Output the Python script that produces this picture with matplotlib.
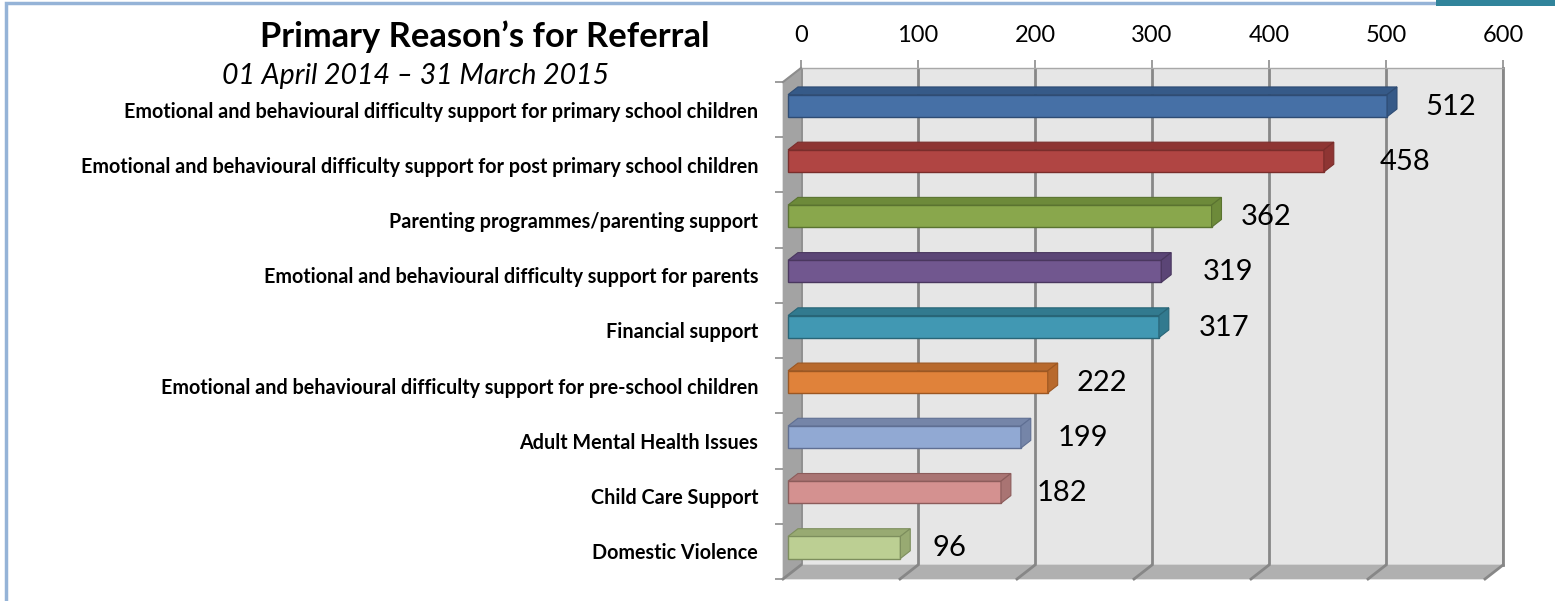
import matplotlib
matplotlib.use("Agg")
import matplotlib.pyplot as plt
from matplotlib.patches import Polygon, Rectangle
from matplotlib.transforms import ScaledTranslation
import numpy as np

# ---- data -------------------------------------------------------------
categories = [
    "Emotional and behavioural difficulty support for primary school children",
    "Emotional and behavioural difficulty support for post primary school children",
    "Parenting programmes/parenting support",
    "Emotional and behavioural difficulty support for parents",
    "Financial support",
    "Emotional and behavioural difficulty support for pre-school children",
    "Adult Mental Health Issues",
    "Child Care Support",
    "Domestic Violence",
]
referrals = [512, 458, 362, 319, 317, 222, 199, 182, 96]
x_ticks = [0, 100, 200, 300, 400, 500, 600]

# ---- styles -----------------------------------------------------------
front_colors = ["#4670a6", "#b04543", "#89a74c", "#71578f", "#4198b3",
                "#e0823a", "#91a9d3", "#d49190", "#bccf93"]
top_colors = ["#365a88", "#8e3533", "#6d8a3a", "#5b4576", "#327a8f",
              "#b8692c", "#7585a8", "#a97473", "#98aa72"]
edge_colors = ["#2e4c74", "#7a2d2b", "#5a7330", "#4a375f", "#286577",
               "#9c5722", "#5f6f93", "#8c5c5b", "#7d8e5d"]
label_nudge_px = [38, 56, 29, 41, 40, 29, 37, 36, 32]

FONT = "Lato"
W, H, DPI = 1555, 601, 100
DX, DY = 18, 14            # depth offset of the back wall, in pixels
Z0, Z1 = 0.28, 0.83        # front/back depth fractions of the bars
BAR_H = 0.40

fig = plt.figure(figsize=(W / DPI, H / DPI), dpi=DPI)
fig.patch.set_facecolor("white")


def px_axes(left, top, width, height, **kw):
    return fig.add_axes([left / W, (H - top - height) / H, width / W, height / H], **kw)


n = len(categories)
ylims = (n - 0.5, -0.5)

# back wall
back = px_axes(783 + DX, 82 - DY, 702, 497)
back.set_zorder(0)
back.set_xlim(0, 600)
back.set_ylim(*ylims)
back.set_facecolor("#e6e6e6")
back.set_xticks(x_ticks)
back.set_xticklabels([str(t) for t in x_ticks], fontsize=17, family=FONT)
back.xaxis.tick_top()
back.tick_params(axis="x", direction="out", length=6, width=1.2, color="#8c8c8c", pad=10)
back.set_yticks([])
back.grid(axis="x", color="#878787", linewidth=2.0)
back.set_axisbelow(True)
for s in ["left", "bottom"]:
    back.spines[s].set_visible(False)
back.spines["top"].set_color("#a8a8a8")
back.spines["top"].set_linewidth(1.0)
back.spines["right"].set_color("#878787")
back.spines["right"].set_linewidth(2.0)

# front plane: carries category labels and bars
ax = px_axes(783, 82, 702, 497)
ax.set_zorder(1)
ax.set_xlim(0, 600)
ax.set_ylim(*ylims)
ax.patch.set_alpha(0)
for s in ax.spines.values():
    s.set_visible(False)
ax.set_xticks([])
ax.set_yticks(np.arange(n))
ax.set_yticklabels(categories, fontsize=14.2, fontweight="bold", family=FONT)
ax.tick_params(axis="y", length=0, pad=18)
ax.set_yticks(np.arange(n + 1) - 0.5, minor=True)
ax.tick_params(axis="y", which="minor", length=6, width=1.2, color="#8c8c8c", direction="out")

fig.canvas.draw()


def to_px(x, y, z=0.0):
    px, py = ax.transData.transform((x, y))
    return (px + DX * z, py + DY * z)


def face(points, fc, ec, lw=1.0, zorder=3):
    fig.patches.append(Polygon(points, closed=True, transform=None, facecolor=fc,
                               edgecolor=ec, linewidth=lw, zorder=zorder,
                               figure=fig))


# left side wall and floor
y_top, y_bot = -0.5, n - 0.5
face([to_px(0, y_top, 0), to_px(0, y_top, 1), to_px(0, y_bot, 1), to_px(0, y_bot, 0)],
     "#a3a3a3", "#a3a3a3", 0.5, zorder=0.5)
face([to_px(0, y_bot, 0), to_px(0, y_bot, 1), to_px(600, y_bot, 1), to_px(600, y_bot, 0)],
     "#b0b0b0", "#b0b0b0", 0.5, zorder=0.5)
# edge lines on the floor and side wall
for t in x_ticks:
    (x0, y0), (x1, y1) = to_px(t, y_bot, 0), to_px(t, y_bot, 1)
    fig.lines.append(plt.Line2D([x0, x1], [y0, y1], transform=None, color="#878787",
                                linewidth=2.0, zorder=0.6, figure=fig))
(x0, y0), (x1, y1) = to_px(0, y_top, 0), to_px(0, y_top, 1)
fig.lines.append(plt.Line2D([x0, x1], [y0, y1], transform=None, color="#8c8c8c",
                            linewidth=1.5, zorder=0.6, figure=fig))

# bars: front face, top face, end face
for i, v in enumerate(referrals):
    yt, yb = i - BAR_H / 2, i + BAR_H / 2
    shift = ScaledTranslation(DX * Z0 / DPI, DY * Z0 / DPI, fig.dpi_scale_trans)
    ax.barh(i, v, height=BAR_H, color=front_colors[i], edgecolor=edge_colors[i],
            linewidth=1.0, transform=ax.transData + shift, zorder=3, clip_on=False)
    face([to_px(0, yt, Z0), to_px(v, yt, Z0), to_px(v, yt, Z1), to_px(0, yt, Z1)],
         top_colors[i], edge_colors[i], 0.8, zorder=4)
    face([to_px(v, yt, Z0), to_px(v, yt, Z1), to_px(v, yb, Z1), to_px(v, yb, Z0)],
         top_colors[i], edge_colors[i], 0.8, zorder=4)
    # value label
    lx, ly = to_px(v, i, Z0)
    fig.text((lx + label_nudge_px[i]) / W, (ly - 1) / H, str(v), fontsize=21,
             family=FONT, ha="left", va="center", zorder=6)

# title block
fig.text(485 / W, 1 - 37 / H, "Primary Reason\u2019s for Referral", fontsize=24.8,
         fontweight="bold", family=FONT, ha="center", va="center")
fig.text(416 / W, 1 - 76 / H, "01 April 2014 \u2013 31 March 2015", fontsize=20.5,
         style="italic", family=FONT, ha="center", va="center")

# frame around the chart area
fig.patches.append(Rectangle((6 / W, -0.1), 1.2, 1.1 - 3 / H, transform=fig.transFigure,
                             fill=False, edgecolor="#95b3d7", linewidth=2.5, zorder=0,
                             figure=fig))
fig.patches.append(Rectangle((1436 / W, 1 - 6 / H), 200 / W, 0.05, transform=fig.transFigure,
                             facecolor="#31849b", edgecolor="none", zorder=0, figure=fig))

fig.savefig("out.png", dpi=DPI)
